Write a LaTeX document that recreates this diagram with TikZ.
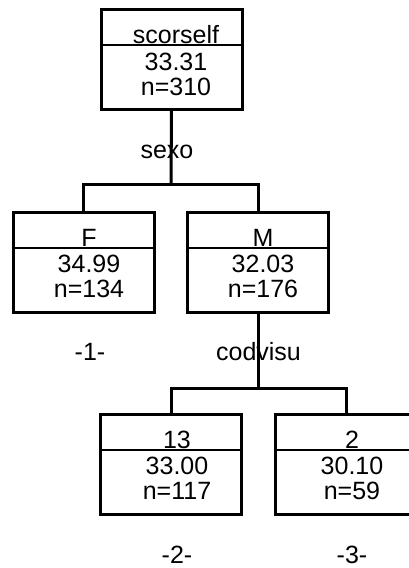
\documentclass[tikz,border=0pt]{standalone}
\usepackage{fontspec}
\setmainfont{Liberation Sans}
\begin{document}
\begin{tikzpicture}[x=1pt,y=-1pt,
  treebox/.style={draw,line width=3pt,minimum width=141pt,minimum height=100pt,inner sep=0pt,anchor=north},
  divline/.style={line width=2pt},
  edge/.style={line width=3pt},
  txt/.style={font=\fontsize{25}{25}\selectfont,anchor=base,inner sep=0pt}]
\useasboundingbox (0,0) rectangle (409,568);
% boxes
\node[treebox] (n0) at (171.5,8) {};
\node[treebox] (n1) at (83.5,211) {};
\node[treebox] (n2) at (258,211) {};
\node[treebox] (n3) at (171,413) {};
\node[treebox] (n4) at (346,413) {};
% dividers
\foreach \b in {n0,n1,n2,n3,n4}{
  \draw[divline] ([yshift=-37pt]\b.north west) -- ([yshift=-37pt]\b.north east);
}
% texts
\node[txt] (t0a) at (176,43) {scorself};
\node[txt] (t0b) at (176,70) {33.31};
\node[txt] (t0c) at (176,95) {n=310};
\node[txt] (t1a) at (89,246) {F};
\node[txt] (t1b) at (89,272) {34.99};
\node[txt] (t1c) at (89,297) {n=134};
\node[txt] (t2a) at (263,246) {M};
\node[txt] (t2b) at (263,272) {32.03};
\node[txt] (t2c) at (263,297) {n=176};
\node[txt] (t3a) at (177,448) {13};
\node[txt] (t3b) at (177,474) {33.00};
\node[txt] (t3c) at (177,499) {n=117};
\node[txt] (t4a) at (352,448) {2};
\node[txt] (t4b) at (352,474) {30.10};
\node[txt] (t4c) at (352,499) {n=59};
% connectors
\coordinate (j0) at (171,184);
\coordinate (j1) at (258,388);
\draw[edge] (n0.south) -- (j0);
\draw[edge] (n1.north) |- (j0) -| (n2.north);
\draw[edge] (n2.south) -- (j1);
\draw[edge] (n3.north) |- (j1) -| (n4.north);
% split labels and leaf numbers
\node[txt] (s0) at (167,158) {sexo};
\node[txt] (s1) at (258.5,360) {codvisu};
\node[txt] (l1) at (90,360) {-1-};
\node[txt] (l2) at (177,563) {-2-};
\node[txt] (l3) at (352,563) {-3-};
\end{tikzpicture}
\end{document}
